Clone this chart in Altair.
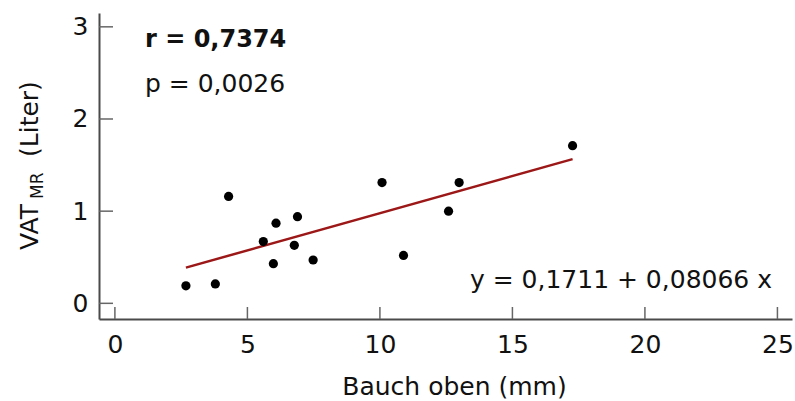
import altair as alt
import pandas as pd

# Measurements: abdominal subcutaneous thickness vs. visceral adipose tissue volume
bauch_oben_mm = [2.68, 3.79, 4.29, 5.60, 6.08, 5.98, 6.89, 6.77, 7.48, 10.08, 10.89, 12.59, 12.99, 17.27]
vat_mr_liter = [0.19, 0.21, 1.16, 0.67, 0.87, 0.43, 0.94, 0.63, 0.47, 1.31, 0.52, 1.00, 1.31, 1.71]

# Fitted regression: y = intercept + slope * x
intercept = 0.1711
slope = 0.08066

x_ticks = [0, 5, 10, 15, 20, 25]
y_ticks = [0, 1, 2, 3]

r_label = "r = 0,7374"
p_label = "p = 0,0026"
eq_label = "y = 0,1711 + 0,08066 x"

FONT = "DejaVu Sans"
W, H = 693, 306

points = pd.DataFrame({"x": bauch_oben_mm, "y": vat_mr_liter})
fit = pd.DataFrame({"x": [min(bauch_oben_mm), max(bauch_oben_mm)]})
fit["y"] = intercept + slope * fit["x"]

x_scale = alt.Scale(domain=[-0.6, 25.55], nice=False, zero=False)
y_scale = alt.Scale(domain=[-0.17, 3.15], nice=False, zero=False)

x_axis = alt.Axis(
    values=x_ticks, format="d", ticks=False, grid=False,
    domainColor="#4a4a4a", domainWidth=2,
    labelFont=FONT, labelFontSize=25, labelColor="#111111", labelPadding=13,
    title="Bauch oben (mm)", titleFont=FONT, titleFontSize=25, titleFontWeight="normal",
    titleColor="#111111", titleX=355, titleY=75, titleBaseline="alphabetic", titleAlign="center",
)
y_axis = alt.Axis(
    values=y_ticks, format="d", ticks=False, grid=False,
    domainColor="#4a4a4a", domainWidth=2,
    labelFont=FONT, labelFontSize=25, labelColor="#111111", labelPadding=11,
    title=None,
)

base_points = alt.Chart(points).mark_circle(size=85, color="black", opacity=1).encode(
    x=alt.X("x:Q", scale=x_scale, axis=x_axis),
    y=alt.Y("y:Q", scale=y_scale, axis=y_axis),
)

fit_line = alt.Chart(fit).mark_line(color="#9c1717", strokeWidth=2.5).encode(
    x=alt.X("x:Q", scale=x_scale),
    y=alt.Y("y:Q", scale=y_scale),
)

# Inward-pointing tick marks
xt = alt.Chart(pd.DataFrame({"x": x_ticks})).mark_rule(color="#666666", strokeWidth=1.5).encode(
    x=alt.X("x:Q", scale=x_scale),
    y=alt.value(H),
    y2=alt.value(H - 12),
)
yt = alt.Chart(pd.DataFrame({"y": y_ticks})).mark_rule(color="#666666", strokeWidth=1.5).encode(
    y=alt.Y("y:Q", scale=y_scale),
    x=alt.value(0),
    x2=alt.value(14),
)

def label(text, x, y, size=25, weight="normal", align="left", angle=0):
    return alt.Chart(pd.DataFrame({"t": [text]})).mark_text(
        font=FONT, fontSize=size, fontWeight=weight, align=align,
        baseline="alphabetic", angle=angle, color="#111111",
    ).encode(text="t:N", x=alt.value(x), y=alt.value(y))

r_text = label(r_label, 46, 34, size=24, weight="bold")
p_text = label(p_label, 46, 79)
eq_text = label(eq_label, 673, 275, align="right")

# Y title with subscript, drawn rotated
yt_vat = label("VAT", -61, 237, angle=270)
yt_mr = label("MR", -56, 186, size=17, angle=270)
yt_unit = label("(Liter)", -61, 144, angle=270)

chart = alt.layer(
    fit_line, base_points, xt, yt, r_text, p_text, eq_text, yt_vat, yt_mr, yt_unit
).properties(
    width=W, height=H,
    autosize=alt.AutoSizeParams(type="none"),
    padding={"left": 99, "top": 13, "right": 3, "bottom": 82},
    background="white",
).configure_view(stroke=None)

chart.save("out.html", embed_options={"renderer": "svg", "actions": False})
